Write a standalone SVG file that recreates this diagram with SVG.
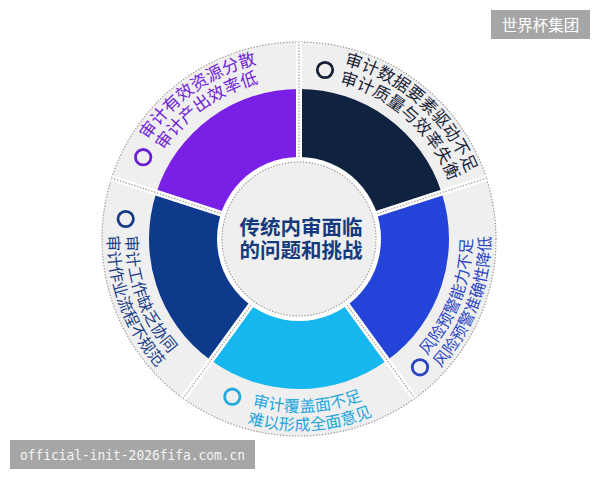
<svg xmlns="http://www.w3.org/2000/svg" width="600" height="480" viewBox="0 0 600 480">
<defs>
<style>
.lbl{font-family:"Noto Sans CJK SC","Noto Sans",sans-serif;}
.t17{font-size:17px;}
.t16{font-size:16px;}
.dot{fill:none;stroke:#a09a92;stroke-width:1.2;stroke-dasharray:1.4 1.6;}
.gap{stroke:#ffffff;stroke-width:6;}
.ring{fill:none;stroke-width:2.8;}
</style>
<path id="tl1" d="M148.38,140.43 A180,180 0 0 1 369.90,73.56"/>
<path id="tl2" d="M164.28,150.84 A161,161 0 0 1 362.42,91.02"/>
<path id="tr1" d="M344.07,64.74 A180,180 0 0 1 478.99,237.43"/>
<path id="tr2" d="M339.31,83.14 A161,161 0 0 1 459.99,237.60"/>
<path id="r1" d="M426.95,355.43 A173,173 0 0 0 448.82,152.5"/>
<path id="r2" d="M440.63,367.88 A191.5,191.5 0 0 0 464.84,143.25"/>
<path id="b1" d="M252.19,405.55 A173,173 0 0 0 431.52,350.20"/>
<path id="b2" d="M247.18,423.36 A191.5,191.5 0 0 0 445.69,362.09"/>
<path id="l1" d="M126.03,235.98 A173,173 0 0 0 239.83,401.57"/>
<path id="l2" d="M107.53,235.66 A191.5,191.5 0 0 0 233.51,418.95"/>
</defs>
<rect width="600" height="480" fill="#ffffff"/>
<circle cx="299" cy="239" r="197" fill="#efefef"/>
<circle cx="299" cy="239" r="197" class="dot"/>

<g id="sector-tl">
<path d="M156.34,192.65 A150,150 0 0 1 299,89 L299,179 A60,60 0 0 0 241.93,220.46 Z" fill="#7a20e6"/>
<circle cx="143.2" cy="157.2" r="7.7" class="ring" stroke="#6a20d2"/>
<text class="lbl t17" fill="#7024d6"><textPath href="#tl1">审计有效资源分散</textPath></text>
<text class="lbl t17" fill="#7024d6"><textPath href="#tl2">审计产出效率低</textPath></text>
</g>
<g id="sector-tr">
<path d="M299,89 A150,150 0 0 1 441.66,192.65 L356.07,220.46 A60,60 0 0 0 299,179 Z" fill="#0f2240"/>
<circle cx="325" cy="70" r="7.7" class="ring" stroke="#152138"/>
<text class="lbl t17" fill="#1b2438"><textPath href="#tr1">审计数据要素驱动不足</textPath></text>
<text class="lbl t17" fill="#1b2438"><textPath href="#tr2">审计质量与效率失衡</textPath></text>
</g>
<g id="sector-r">
<path d="M441.66,192.65 A150,150 0 0 1 387.17,360.35 L334.27,287.54 A60,60 0 0 0 356.07,220.46 Z" fill="#2444d9"/>
<circle cx="420" cy="367.3" r="7.7" class="ring" stroke="#2a43c0"/>
<text class="lbl t16" fill="#2a46c4"><textPath href="#r1">风险预警能力不足</textPath></text>
<text class="lbl t16" fill="#2a46c4"><textPath href="#r2">风险预警准确性降低</textPath></text>
</g>
<g id="sector-b">
<path d="M387.17,360.35 A150,150 0 0 1 210.83,360.35 L263.73,287.54 A60,60 0 0 0 334.27,287.54 Z" fill="#16b6ee"/>
<circle cx="232.3" cy="396.7" r="7.7" class="ring" stroke="#22aadf"/>
<text class="lbl t16" fill="#1fa6dc"><textPath href="#b1">审计覆盖面不足</textPath></text>
<text class="lbl t16" fill="#1fa6dc"><textPath href="#b2">难以形成全面意见</textPath></text>
</g>
<g id="sector-l">
<path d="M210.83,360.35 A150,150 0 0 1 156.34,192.65 L241.93,220.46 A60,60 0 0 0 263.73,287.54 Z" fill="#0e3a8c"/>
<circle cx="125.7" cy="219" r="7.7" class="ring" stroke="#163b87"/>
<text class="lbl t16" fill="#1b3f88"><textPath href="#l1">审计工作缺乏协同</textPath></text>
<text class="lbl t16" fill="#1b3f88"><textPath href="#l2">审计作业流程不规范</textPath></text>
</g>

<g id="dividers">
<line x1="226.72" y1="215.52" x2="111.64" y2="178.13" class="gap"/>
<line x1="299" y1="163" x2="299" y2="42" class="gap"/>
<line x1="371.28" y1="215.52" x2="486.36" y2="178.13" class="gap"/>
<line x1="343.67" y1="300.48" x2="414.80" y2="398.37" class="gap"/>
<line x1="254.33" y1="300.48" x2="183.20" y2="398.37" class="gap"/>
<line x1="226.72" y1="215.52" x2="111.64" y2="178.13" class="dot"/>
<line x1="299" y1="163" x2="299" y2="42" class="dot"/>
<line x1="371.28" y1="215.52" x2="486.36" y2="178.13" class="dot"/>
<line x1="343.67" y1="300.48" x2="414.80" y2="398.37" class="dot"/>
<line x1="254.33" y1="300.48" x2="183.20" y2="398.37" class="dot"/>
</g>

<g id="center">
<circle cx="299" cy="239" r="82" fill="#ffffff"/>
<circle cx="299" cy="239" r="77" fill="#efefef"/>
<circle cx="299" cy="239" r="77" class="dot"/>
<text x="301" y="234.5" text-anchor="middle" font-family="Noto Sans CJK SC, sans-serif" font-weight="700" font-size="20.5" fill="#163b7c">传统内审面临</text>
<text x="301" y="258" text-anchor="middle" font-family="Noto Sans CJK SC, sans-serif" font-weight="700" font-size="20.5" fill="#163b7c">的问题和挑战</text>
</g>

<g id="watermark-top">
<rect x="491" y="10" width="99" height="29" fill="#a6a6a6"/>
<text x="540.5" y="31" text-anchor="middle" font-family="Noto Sans CJK SC, sans-serif" font-size="15.5" fill="#ffffff">世界杯集团</text>
</g>
<g id="watermark-bottom">
<rect x="10" y="440" width="245" height="29" fill="#a6a6a6"/>
<text x="20" y="460" font-family="DejaVu Sans Mono, monospace" font-size="13.5" textLength="225" lengthAdjust="spacingAndGlyphs" fill="#f4f4f4">official-init-2026fifa.com.cn</text>
</g>
</svg>
